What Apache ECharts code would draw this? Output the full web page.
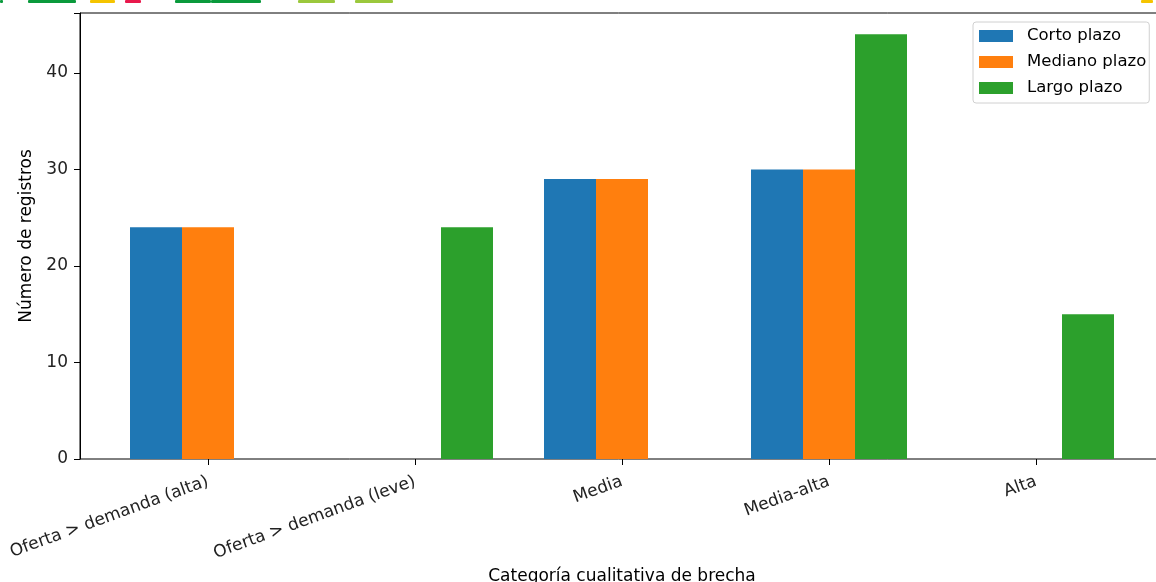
<!DOCTYPE html>
<html>
<head>
<meta charset="utf-8">
<script src="https://cdn.jsdelivr.net/npm/echarts@6/dist/echarts.min.js"></script>
<style>
  html, body { margin: 0; padding: 0; background: #fff; }
  #chart { width: 1156px; height: 582px; }
</style>
</head>
<body>
<div id="chart"></div>
<script>
// datos
const categorias = ['Oferta > demanda (alta)', 'Oferta > demanda (leve)', 'Media', 'Media-alta', 'Alta'];
const cortoPlazo = [24, 0, 29, 30, 0];
const medianoPlazo = [24, 0, 29, 30, 0];
const largoPlazo = [0, 24, 0, 44, 15];
const yTicks = [0, 10, 20, 30, 40];

const FONT = 'DejaVu Sans';
const FS = 17;
const yMax = 46.2;

const chart = echarts.init(document.getElementById('chart'));

// tiras de color recortadas en el borde superior
const tiras = [
  [0, 3, '#0a9a3c'], [28, 48, '#0a9a3c'], [90, 25, '#f5c400'], [125, 16, '#e8184c'],
  [175, 36, '#0a9a3c'], [211, 50, '#0a9a3c'], [298, 37, '#9bc83c'], [355, 38, '#9bc83c'],
  [1141, 12, '#f5c400']
];

const option = {
  animation: false,
  textStyle: { fontFamily: FONT },
  graphic: tiras.map(t => ({
    type: 'rect',
    shape: { x: t[0], y: 0, width: t[1], height: 3, r: 1 },
    style: { fill: t[2] }
  })),
  grid: [
    // marco (spines), se sale un poco por la derecha como en la figura
    { left: 80, width: 1082, top: 13, height: 446, outerBoundsMode: 'none', show: true, borderColor: '#000', borderWidth: 1, backgroundColor: 'transparent' },
    // barras
    { left: 104.5, width: 1035, top: 13, height: 446, outerBoundsMode: 'none' }
  ],
  legend: {
    orient: 'vertical',
    left: 973,
    top: 22,
    padding: [4, 3, 5, 6],
    itemWidth: 34,
    itemHeight: 12,
    itemGap: 6,
    icon: 'rect',
    borderColor: '#d0d0d0',
    borderWidth: 1,
    borderRadius: 3,
    backgroundColor: '#fff',
    textStyle: { fontFamily: FONT, fontSize: 16.5, color: '#000', padding: [0, 0, 0, 9], lineHeight: 20 },
    data: ['Corto plazo', 'Mediano plazo', 'Largo plazo']
  },
  xAxis: [
    { type: 'value', gridIndex: 0, min: 0, max: 1, show: false },
    {
      type: 'category',
      gridIndex: 1,
      data: categorias,
      axisLine: { show: false },
      axisTick: { show: true, alignWithLabel: true, length: 6, lineStyle: { color: '#000', width: 1 } },
      axisLabel: { rotate: 20, fontSize: FS, color: '#222', margin: 22, fontFamily: FONT },
      name: 'Categoría cualitativa de brecha',
      nameLocation: 'middle',
      nameGap: 103,
      nameTextStyle: { fontSize: FS, color: '#000', fontFamily: FONT }
    }
  ],
  yAxis: [
    {
      type: 'value',
      gridIndex: 0,
      min: 0,
      max: yMax,
      interval: 10,
      axisLine: { show: true, lineStyle: { color: '#000', width: 1 } },
      axisTick: { show: true, length: 6, lineStyle: { color: '#000', width: 1 } },
      axisLabel: {
        fontSize: FS, color: '#222', margin: 12, fontFamily: FONT,
        formatter: v => (yTicks.indexOf(v) >= 0 ? String(v) : '')
      },
      splitLine: { show: false },
      name: 'Número de registros',
      nameLocation: 'middle',
      nameGap: 37,
      nameRotate: 90,
      nameTextStyle: { fontSize: FS, color: '#000', fontFamily: FONT }
    },
    { type: 'value', gridIndex: 1, min: 0, max: yMax, show: false }
  ],
  series: [
    { name: 'Corto plazo', type: 'bar', xAxisIndex: 1, yAxisIndex: 1, data: cortoPlazo, itemStyle: { color: '#1f77b4' }, barWidth: 52, barGap: '0%' },
    { name: 'Mediano plazo', type: 'bar', xAxisIndex: 1, yAxisIndex: 1, data: medianoPlazo, itemStyle: { color: '#ff7f0e' }, barWidth: 52, barGap: '0%' },
    { name: 'Largo plazo', type: 'bar', xAxisIndex: 1, yAxisIndex: 1, data: largoPlazo, itemStyle: { color: '#2ca02c' }, barWidth: 52, barGap: '0%' }
  ]
};

chart.setOption(option);
</script>
</body>
</html>
